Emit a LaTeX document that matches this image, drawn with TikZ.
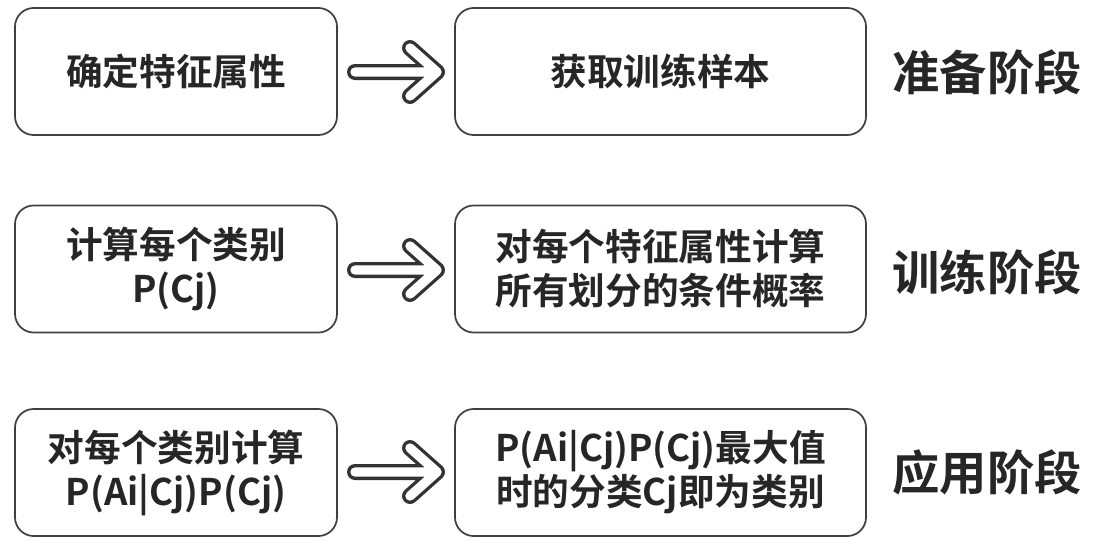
\documentclass[tikz,border=0pt]{standalone}
\usepackage{fontspec}
\setmainfont{Noto Sans CJK SC}[BoldFont={* Bold}]
\begin{document}
\begin{tikzpicture}[x=0.75pt,y=-0.75pt,
  box/.style={draw=black!75,line width=1.3pt,rounded corners=14pt,align=center,font=\fontsize{27.5}{33}\selectfont\bfseries,text=black!85},
  stage/.style={font=\fontsize{35.5}{40}\selectfont\bfseries,text=black!85},
  aout/.style={draw=black!80,line width=12pt,line cap=round,line join=round},
  ain/.style={draw=white,line width=7pt,line cap=round,line join=round}]
\useasboundingbox (0,0) rectangle (1117,554);
\newcommand{\mybox}[5]{\node[box,minimum width=#3*0.75pt,minimum height=127*0.75pt] (#1) at #2 {#4};}
\mybox{a1}{(176,71.5)}{322}{确定特征属性}{}
\mybox{b1}{(660.5,71.5)}{411}{获取训练样本}{}
\mybox{a2}{(176,269)}{322}{计算每个类别\\P(Cj)}{}
\mybox{b2}{(660.5,269)}{411}{对每个特征属性计算\\所有划分的条件概率}{}
\mybox{a3}{(176,472.5)}{322}{对每个类别计算\\P(Ai|Cj)P(Cj)}{}
\mybox{b3}{(660.5,472.5)}{411}{P(Ai|Cj)P(Cj)最大值\\时的分类Cj即为类别}{}
\node[stage] (s1) at (987,72) {准备阶段};
\node[stage] (s2) at (987,272) {训练阶段};
\node[stage] (s3) at (987,472) {应用阶段};
\foreach \y/\n in {72/1,270/2,472/3}{
  \coordinate (t\n) at (437,\y);
  \coordinate (s\n x) at (355,\y);
  \coordinate (u\n) at (410,\y-24);
  \coordinate (d\n) at (410,\y+24);
  \draw[aout] (s\n x)--(t\n) (u\n)--(t\n)--(d\n);
  \draw[ain] (s\n x)--(t\n) (u\n)--(t\n)--(d\n);
}
\end{tikzpicture}
\end{document}
